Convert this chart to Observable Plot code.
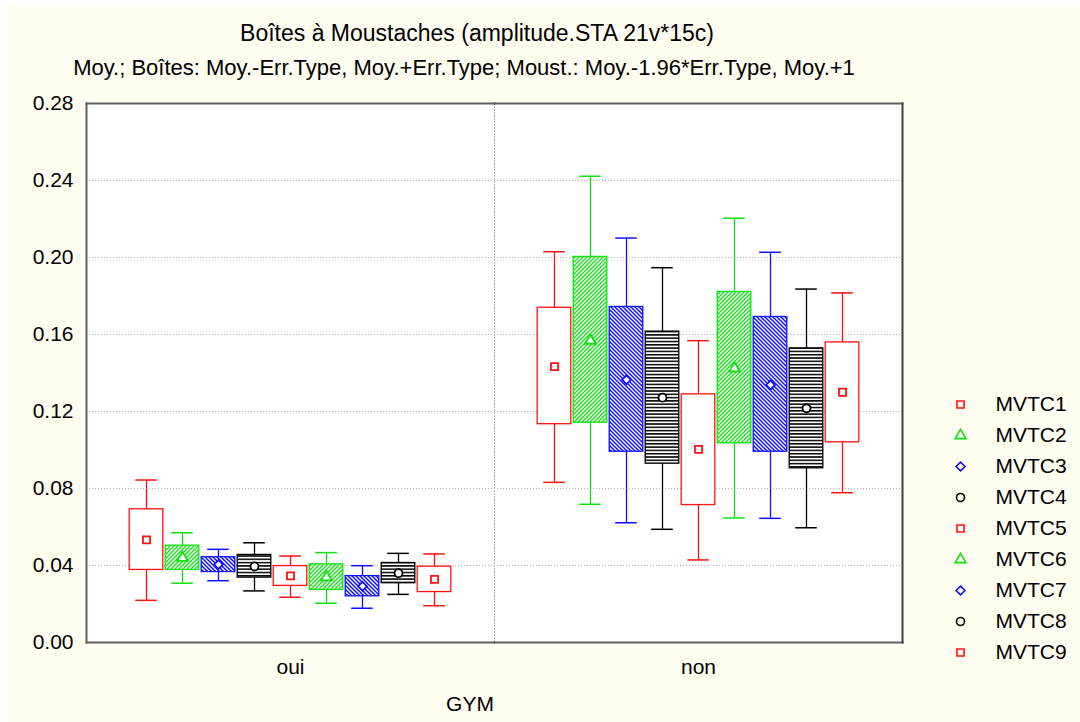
<!DOCTYPE html>
<html><head><meta charset="utf-8">
<script src="https://cdn.jsdelivr.net/npm/d3@7"></script>
<script src="https://cdn.jsdelivr.net/npm/@observablehq/plot@0.6"></script>
<style>
html,body{margin:0;padding:0;background:#fff;}
#wrap{position:relative;width:1080px;height:722px;overflow:hidden;font-family:"Liberation Sans",Arial,sans-serif;color:#000;}
#bg{position:absolute;left:8px;top:6px;right:0;bottom:0;background:#fffcf0;}
.t{position:absolute;white-space:nowrap;text-align:center;line-height:1;}
#chart,#legend{position:absolute;left:0;top:0;}
#legend{left:940px;top:380px;}
</style></head><body>
<div id="wrap">
<div id="bg"></div>
<div id="chart"></div>
<div id="legend"></div>
<div class="t" style="left:0;width:954px;top:21.5px;font-size:23px">Boîtes à Moustaches (amplitude.STA 21v*15c)</div>
<div class="t" style="left:0;width:928px;top:57px;font-size:22px">Moy.; Boîtes: Moy.-Err.Type, Moy.+Err.Type; Moust.: Moy.-1.96*Err.Type, Moy.+1</div>
<div class="t" style="left:370px;width:200px;top:693px;font-size:21px">GYM</div>
</div>
<script>
// ---- data ----
const groups = ["oui", "non"];
const series = ["MVTC1","MVTC2","MVTC3","MVTC4","MVTC5","MVTC6","MVTC7","MVTC8","MVTC9"];
const yTicks = [0, 0.04, 0.08, 0.12, 0.16, 0.20, 0.24, 0.28];

const meanOui      = [0.0533, 0.0440, 0.0405, 0.0395, 0.0346, 0.0339, 0.0292, 0.0360, 0.0328];
const boxHighOui   = [0.0692, 0.0503, 0.0443, 0.0455, 0.0397, 0.0406, 0.0345, 0.0413, 0.0394];
const boxLowOui    = [0.0377, 0.0377, 0.0366, 0.0337, 0.0294, 0.0273, 0.0240, 0.0308, 0.0262];
const whiskHighOui = [0.0844, 0.0570, 0.0484, 0.0518, 0.0449, 0.0467, 0.0399, 0.0463, 0.0460];
const whiskLowOui  = [0.0219, 0.0308, 0.0321, 0.0268, 0.0235, 0.0204, 0.0178, 0.0250, 0.0191];

const meanNon      = [0.1433, 0.1568, 0.1365, 0.1272, 0.1003, 0.1424, 0.1338, 0.1217, 0.1300];
const boxHighNon   = [0.1739, 0.2003, 0.1743, 0.1615, 0.1289, 0.1821, 0.1691, 0.1528, 0.1559];
const boxLowNon    = [0.1134, 0.1142, 0.0991, 0.0929, 0.0714, 0.1035, 0.0991, 0.0905, 0.1040];
const whiskHighNon = [0.2030, 0.2422, 0.2101, 0.1947, 0.1568, 0.2204, 0.2027, 0.1836, 0.1816];
const whiskLowNon  = [0.0832, 0.0718, 0.0622, 0.0588, 0.0429, 0.0647, 0.0645, 0.0596, 0.0778];

// ---- styles ----
const seriesColor  = ["#ff1010","#10e010","#1010ff","#000000","#ff1010","#10e010","#1010ff","#000000","#ff1010"];
const seriesFill   = ["#ffffff","url(#hatchG)","url(#hatchB)","url(#hatchK)","#ffffff","url(#hatchG)","url(#hatchB)","url(#hatchK)","#ffffff"];
const seriesSymbol = ["square","triangle","diamond2","circle","square","triangle","diamond2","circle","square"];

const table = {
  oui: {mean: meanOui, hi: boxHighOui, lo: boxLowOui, whi: whiskHighOui, wlo: whiskLowOui},
  non: {mean: meanNon, hi: boxHighNon, lo: boxLowNon, whi: whiskHighNon, wlo: whiskLowNon}
};
const rows = groups.flatMap(g => series.map((s, i) => ({
  group: g, series: s,
  mean: table[g].mean[i], hi: table[g].hi[i], lo: table[g].lo[i],
  whi: table[g].whi[i], wlo: table[g].wlo[i]
})));
const colorOf = d => seriesColor[series.indexOf(d.series ?? d)];
const fillOf = d => seriesFill[series.indexOf(d.series)];
const symbolOf = d => seriesSymbol[series.indexOf(d.series ?? d)];

const font = {fontFamily: '"Liberation Sans", Arial, sans-serif', fontSize: "21px", background: "transparent", overflow: "visible"};

const chart = Plot.plot({
  width: 1080, height: 722,
  marginLeft: 86, marginRight: 178, marginTop: 103, marginBottom: 80,
  style: font,
  fx: {domain: groups, padding: 0},
  x: {domain: series, paddingInner: 0.067, paddingOuter: 1.2, round: false, axis: null},
  y: {domain: [0, 0.28]},
  color: {type: "identity"},
  marks: [
    Plot.frame({fill: "#ffffff", stroke: null}),
    Plot.gridY(yTicks.slice(1, -1), {stroke: "#b0b0b0", strokeOpacity: 1, strokeDasharray: "1,2"}),
    Plot.frame({anchor: "right", facetAnchor: "left", stroke: "#b0b0b0", strokeDasharray: "1,2"}),
    Plot.barY(rows, {fx: "group", x: "series", y1: "lo", y2: "hi", fill: fillOf, stroke: colorOf, strokeWidth: 1.3}),
    Plot.ruleX(rows, {fx: "group", x: "series", y1: "hi", y2: "whi", stroke: colorOf, strokeWidth: 1.3}),
    Plot.ruleX(rows, {fx: "group", x: "series", y1: "lo", y2: "wlo", stroke: colorOf, strokeWidth: 1.3}),
    Plot.tickY(rows, {fx: "group", x: "series", y: "whi", stroke: colorOf, strokeWidth: 1.5, insetLeft: 6, insetRight: 6}),
    Plot.tickY(rows, {fx: "group", x: "series", y: "wlo", stroke: colorOf, strokeWidth: 1.5, insetLeft: 6, insetRight: 6}),
    Plot.dot(rows, {fx: "group", x: "series", y: "mean", symbol: symbolOf, stroke: colorOf, fill: "#ffffff", r: 4, strokeWidth: 1.8}),
    Plot.frame({anchor: "top", stroke: "#606060", strokeWidth: 2}),
    Plot.frame({anchor: "bottom", stroke: "#606060", strokeWidth: 2}),
    Plot.frame({anchor: "left", facetAnchor: "left", stroke: "#606060", strokeWidth: 2}),
    Plot.frame({anchor: "right", facetAnchor: "right", stroke: "#404040", strokeWidth: 2}),
    Plot.axisY(yTicks, {tickSize: 0, tickPadding: 13, tickFormat: d3.format(".2f"), fontSize: 21, label: null}),
    Plot.axisFx({anchor: "bottom", tickSize: 0, tickPadding: 17, fontSize: 21, label: null})
  ]
});
const defs = document.createElementNS("http://www.w3.org/2000/svg", "defs");
defs.innerHTML = `
<pattern id="hatchG" patternUnits="userSpaceOnUse" width="4" height="4">
  <rect width="4" height="4" fill="#fff"/>
  <path d="M-1,1 L1,-1 M0,4 L4,0 M3,5 L5,3" stroke="#10e010" stroke-width="1.3"/>
</pattern>
<pattern id="hatchB" patternUnits="userSpaceOnUse" width="4" height="4">
  <rect width="4" height="4" fill="#fff"/>
  <path d="M-1,3 L1,5 M0,0 L4,4 M3,-1 L5,1" stroke="#1010ff" stroke-width="1.5"/>
</pattern>
<pattern id="hatchK" patternUnits="userSpaceOnUse" width="4" height="3.3">
  <rect width="4" height="3.3" fill="#fff"/>
  <path d="M0,1.6 H4" stroke="#000" stroke-width="1.5"/>
</pattern>`;
chart.insertBefore(defs, chart.firstChild);
document.getElementById("chart").appendChild(chart);

const legend = Plot.plot({
  width: 140, height: 290,
  marginLeft: 0, marginRight: 100, marginTop: 0, marginBottom: 0,
  style: font,
  y: {type: "point", domain: series, range: [21.7, 274.3], padding: 0, axis: null},
  color: {type: "identity"},
  marks: [
    Plot.dot(series, {y: d => d, symbol: symbolOf, stroke: colorOf, fill: "none", r: 4, strokeWidth: 1.6}),
    Plot.text(series, {y: d => d, text: d => d, dx: 35, textAnchor: "start", fontSize: 21, fill: "#000"})
  ]
});
document.getElementById("legend").appendChild(legend);
</script>
</body></html>
